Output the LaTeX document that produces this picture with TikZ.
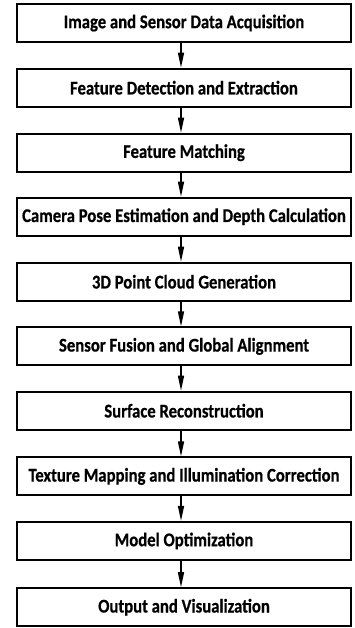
\documentclass[tikz,border=0pt]{standalone}
\usepackage{fontspec}
\setmainfont{Carlito}
\newfontfamily\stagefont{Carlito}[FakeStretch=0.86,FakeBold=0.6]
\usetikzlibrary{arrows.meta}
\begin{document}
\begin{tikzpicture}[x=1pt,y=-1pt,
  stage/.style={draw=black, line width=2pt, minimum width=334pt, minimum height=38pt,
    inner sep=0pt, font=\stagefont\bfseries\fontsize{19.4}{21}\selectfont},
  flow/.style={line width=1.4pt, -{Triangle[length=15pt,width=6pt]}},
  edge/.style={line width=0.8pt}]
\useasboundingbox (0,0) rectangle (355,628);
\foreach \n/\y/\t in {1/23/Image and Sensor Data Acquisition,
                      2/87.7/Feature Detection and Extraction,
                      3/152.7/Feature Matching,
                      4/216.7/Camera Pose Estimation and Depth Calculation,
                      5/281.7/3D Point Cloud Generation,
                      6/346.4/Sensor Fusion and Global Alignment,
                      7/410.7/Surface Reconstruction,
                      8/476.4/Texture Mapping and Illumination Correction,
                      9/540.9/Model Optimization,
                      10/607.2/Output and Visualization}{
  \node[stage] (s\n) at (184,\y) {\t};
  \draw[edge] ([xshift=3pt]s\n.north east) -- ([xshift=3pt]s\n.south east);
}
\foreach \a/\b in {1/2,2/3,3/4,4/5,5/6,6/7,7/8,8/9,9/10}{
  \draw[flow] ([xshift=-3pt]s\a.south) -- ([xshift=-3pt]s\b.north);
}
\end{tikzpicture}
\end{document}
